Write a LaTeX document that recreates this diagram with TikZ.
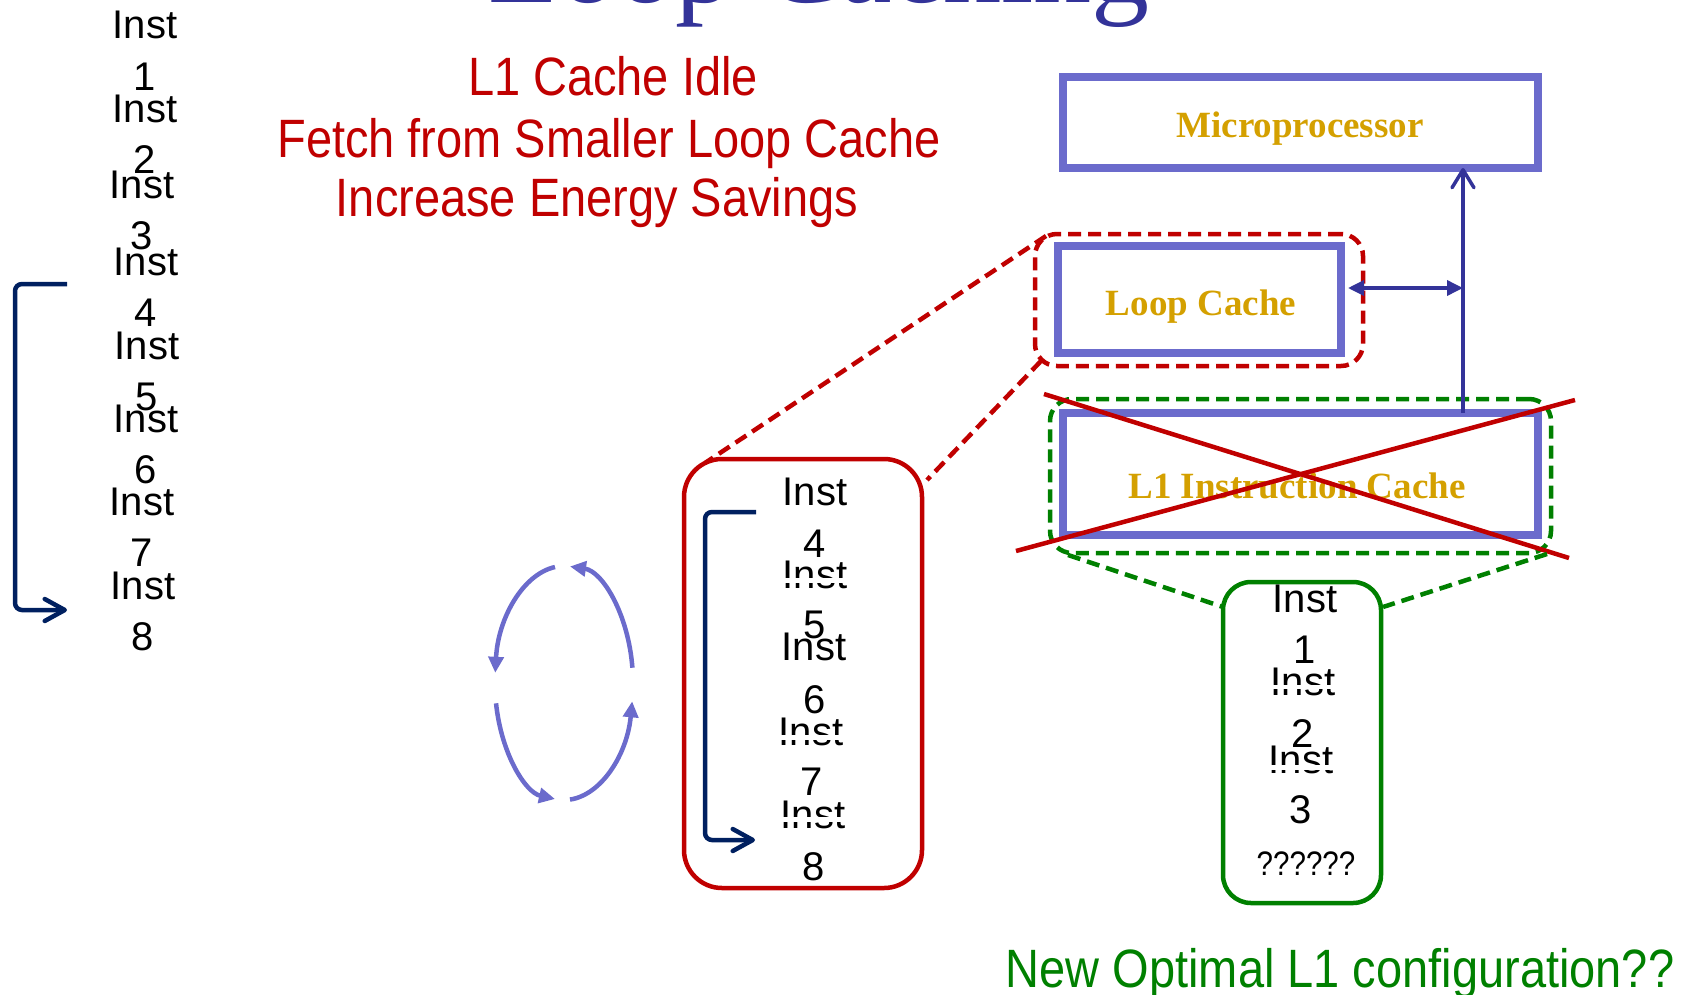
\documentclass[tikz,border=0pt]{standalone}
\usepackage{fontspec}
\setmainfont{Liberation Serif}
\newfontfamily\instfont{Liberation Sans}
\newfontfamily\condfont[FakeStretch=0.87]{Liberation Sans}
\usetikzlibrary{arrows.meta}
\definecolor{boxblue}{RGB}{107,107,204}
\definecolor{gold}{RGB}{212,160,0}
\definecolor{navy}{RGB}{51,51,153}
\definecolor{darknavy}{RGB}{0,32,96}
\definecolor{myred}{RGB}{192,0,0}
\definecolor{mygreen}{RGB}{0,128,0}
\definecolor{titleblue}{RGB}{51,51,153}
\begin{document}
\begin{tikzpicture}[x=1bp,y=-1bp,
  bluebox/.style={draw=boxblue, line width=8bp, inner sep=0pt, outer sep=0pt},
  dashbox/.style={line width=4.5bp, dash pattern=on 13bp off 7bp, rounded corners=22bp, inner sep=0pt, outer sep=0pt},
  solidbox/.style={line width=4.5bp, inner sep=0pt, outer sep=0pt},
  boxtext/.style={font=\bfseries\fontsize{37bp}{44bp}\selectfont, text=gold, anchor=base, inner sep=0pt},
  inst/.style={font=\instfont\fontsize{40bp}{48bp}\selectfont, anchor=base, inner sep=0pt},
  redtext/.style={font=\condfont\fontsize{54bp}{60bp}\selectfont, text=myred, anchor=base, inner sep=0pt},
  greentext/.style={font=\condfont\fontsize{54bp}{60bp}\selectfont, text=mygreen, anchor=base, inner sep=0pt},
  bracket/.style={draw=darknavy, line width=4.5bp, rounded corners=7bp, -{Straight Barb[length=20bp,width=22bp,round]}},
  navyarrow/.style={draw=navy, line width=3.5bp},
  cyclearrow/.style={draw=boxblue, line width=4.5bp, -{Triangle[length=16bp,width=15bp]}},
  reddash/.style={draw=myred, line width=4.5bp, dash pattern=on 13bp off 7bp},
  greendash/.style={draw=mygreen, line width=4.5bp, dash pattern=on 13bp off 7bp},
  xline/.style={draw=myred, line width=4.5bp},
  cutband/.style={fill=white}
]
\useasboundingbox (0,0) rectangle (1700,994);

% title (cut off at top)
\node[font=\fontsize{116bp}{130bp}\selectfont, text=titleblue, anchor=base, inner sep=0pt] (title) at (819,2) {Loop Caching};

% red statements
\node[redtext] (t1) at (613,95) {L1 Cache Idle};
\node[redtext] (t2) at (609,157) {Fetch from Smaller Loop Cache};
\node[redtext] (t3) at (597,216) {Increase Energy Savings};

% left instruction column
\node[inst] (li1) at (145,38) {Inst};  \node[inst] (ld1) at (145,90) {1};
\node[inst] (li2) at (145,122) {Inst}; \node[inst] (ld2) at (145,173) {2};
\node[inst] (li3) at (142,198) {Inst}; \node[inst] (ld3) at (142,249) {3};
\node[inst] (li4) at (146,275) {Inst}; \node[inst] (ld4) at (146,326) {4};
\node[inst] (li5) at (147,359) {Inst}; \node[inst] (ld5) at (147,410) {5};
\node[inst] (li6) at (146,432) {Inst}; \node[inst] (ld6) at (146,483) {6};
\node[inst] (li7) at (142,515) {Inst}; \node[inst] (ld7) at (142,566) {7};
\node[inst] (li8) at (143,599) {Inst}; \node[inst] (ld8) at (143,650) {8};
\coordinate (lbs) at (67,284);
\coordinate (lbe) at (67,610);
\draw[bracket] (lbs) -- ++(-52,0) |- (lbe);

% boxes on the right
\node[bluebox, minimum width=475bp, minimum height=91bp] (mp) at (1300.5,122.5) {};
\node[boxtext] (mpt) at (1300,137) {Microprocessor};
\node[bluebox, minimum width=283bp, minimum height=107bp] (lc) at (1199.5,299.5) {};
\node[boxtext] (lct) at (1201,315) {Loop Cache};
\node[dashbox, draw=myred, minimum width=328bp, minimum height=132bp] (lcd) at (1199,300) {};
\node[bluebox, minimum width=475bp, minimum height=122bp] (l1) at (1300.5,474) {};
\node[boxtext] (l1t) at (1297,498) {L1 Instruction Cache};
\node[dashbox, draw=mygreen, minimum width=501bp, minimum height=154bp] (l1d) at (1300.5,476) {};

% bus arrows
\coordinate (vx) at (1463,288);
\draw[navyarrow, -{Straight Barb[length=18bp,width=22bp,round]}] (vx |- l1.north) -- (vx |- mp.south);
\draw[navyarrow, {Triangle[length=16bp,width=15bp]}-{Triangle[length=16bp,width=15bp]}, shorten <=7bp] (lc.east |- vx) -- (vx);

% cross over L1 cache
\draw[xline] (1044,394) -- (1569,558);
\draw[xline] (1016,551) -- (1575,400);

% loop cache contents
\node[solidbox, draw=myred, rounded corners=38bp, minimum width=238bp, minimum height=429bp] (rb) at (803,673.5) {};
\draw[reddash] ([shift={(11,2)}]lcd.north west) -- ([shift={(21,4)}]rb.north west);
\draw[reddash] ([shift={(6,-5)}]lcd.south west) -- ([shift={(5,21)}]rb.north east);

\node[inst] (ri4) at (815,505) {Inst}; \node[inst] (rd4) at (815,557) {4};
\node[inst] (ri5) at (815,588) {Inst};
\fill[cutband] ([shift={(-38,-10)}]ri5.base) rectangle ([shift={(38,-5)}]ri5.base);
\node[inst] (rd5) at (815,638) {5};
\node[inst] (ri6) at (814,660) {Inst}; \node[inst] (rd6) at (815,713) {6};
\node[inst] (ri7) at (811,745) {Inst};
\fill[cutband] ([shift={(-38,-10)}]ri7.base) rectangle ([shift={(38,-5)}]ri7.base);
\node[inst] (rd7) at (812,795) {7};
\node[inst] (ri8) at (813,828) {Inst};
\fill[cutband] ([shift={(-38,-11)}]ri8.base) rectangle ([shift={(38,-6)}]ri8.base);
\node[inst] (rd8) at (814,880) {8};
\coordinate (rbs) at (756,512);
\coordinate (rbe) at (755,840);
\draw[bracket] (rbs) -- ++(-51,0) |- (rbe);

% L1 contents
\node[solidbox, draw=mygreen, rounded corners=28bp, minimum width=158bp, minimum height=321bp] (gb) at (1302,742.5) {};
\draw[greendash] ([shift={(18,2)}]l1d.south west) -- ([shift={(0,25)}]gb.north west);
\draw[greendash] ([shift={(-4,1)}]l1d.south east) -- ([shift={(2,25)}]gb.north east);
\node[inst] (gi1) at (1305,612) {Inst}; \node[inst] (gd1) at (1305,663) {1};
\node[inst] (gi2) at (1303,695) {Inst};
\fill[cutband] ([shift={(-38,-10)}]gi2.base) rectangle ([shift={(38,-6)}]gi2.base);
\node[inst] (gd2) at (1303,747) {2};
\node[inst] (gi3) at (1301,773) {Inst};
\fill[cutband] ([shift={(-38,-8)}]gi3.base) rectangle ([shift={(38,-3)}]gi3.base);
\node[inst] (gd3) at (1301,823) {3};
\node[font=\condfont\fontsize{34bp}{40bp}\selectfont, anchor=base, inner sep=0pt] (gq) at (1306,875) {??????};

\node[greentext] (nl1) at (1340,987) {New Optimal L1 configuration??};

% cycle arrows
\begin{scope}[shift={(564,683)}]
\draw[cyclearrow] (262.5:69 and 117) arc[start angle=262.5, end angle=185, x radius=69, y radius=117];
\draw[cyclearrow] (170:69 and 117) arc[start angle=170, end angle=97.5, x radius=69, y radius=117];
\draw[cyclearrow] (85:69 and 117) arc[start angle=85, end angle=9, x radius=69, y radius=117];
\draw[cyclearrow] (352.5:69 and 117) arc[start angle=352.5, end angle=275, x radius=69, y radius=117];
\end{scope}
\end{tikzpicture}
\end{document}
